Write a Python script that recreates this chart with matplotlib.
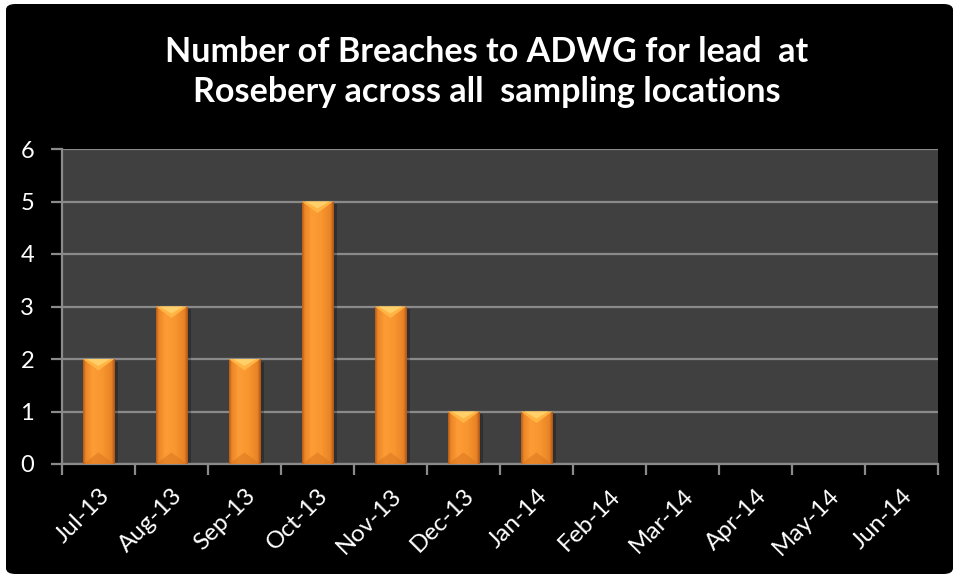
import numpy as np
import matplotlib.pyplot as plt
from matplotlib.patches import FancyBboxPatch, Polygon, Rectangle
from matplotlib.colors import LinearSegmentedColormap

months = ['Jul-13', 'Aug-13', 'Sep-13', 'Oct-13', 'Nov-13', 'Dec-13',
          'Jan-14', 'Feb-14', 'Mar-14', 'Apr-14', 'May-14', 'Jun-14']
breaches = [2, 3, 2, 5, 3, 1, 1, 0, 0, 0, 0, 0]

title = 'Number of Breaches to ADWG for lead  at\nRosebery across all  sampling locations'

plt.rcParams['font.family'] = ['Lato', 'DejaVu Sans']

fig = plt.figure(figsize=(9.55, 5.78), dpi=100, facecolor='white')

# black rounded panel behind everything
panel = FancyBboxPatch((6 / 955, 4 / 578), 947 / 955, 570 / 578,
                       boxstyle='round,pad=0,rounding_size=0.01',
                       transform=fig.transFigure, facecolor='black',
                       edgecolor='none', zorder=-5)
fig.patches.append(panel)

ax = fig.add_axes([62 / 955, 1 - 464 / 578, 876 / 955, 315 / 578])
ax.set_zorder(2)
ax.set_facecolor('#404040')

x = np.arange(len(months))
bar_w = 0.43
bars = ax.bar(x, breaches, width=bar_w, color='#F7922D', edgecolor='none', zorder=3)

# horizontal shading across each bar: thin dark rims, bright body
shade = LinearSegmentedColormap.from_list(
    'shade', [(0.0, '#B45A18'), (0.08, '#EC8626'), (0.3, '#FD9C36'),
              (0.6, '#F8962F'), (0.9, '#E98325'), (1.0, '#AC5418')])
grad = np.linspace(0, 1, 64).reshape(1, -1)
for rect, v in zip(bars, breaches):
    if v <= 0:
        continue
    x0, w = rect.get_x(), rect.get_width()
    # faint shadow on the right-hand side
    ax.add_patch(Rectangle((x0 + w, 0), 0.05, v - 0.05, facecolor='black',
                           alpha=0.25, edgecolor='none', zorder=2.5))
    im = ax.imshow(grad, cmap=shade, aspect='auto', extent=(x0, x0 + w, 0, v),
                   zorder=4, interpolation='bicubic')
    im.set_clip_path(rect)
    # light bevel at the top of the bar
    bev = 0.22
    ax.add_patch(Polygon([(x0, v), (x0 + w, v), (x0 + w * 0.5, v - bev)],
                         closed=True, facecolor='#FFB443', edgecolor='none',
                         zorder=5))
    ax.add_patch(Polygon([(x0 + w * 0.12, v), (x0 + w * 0.88, v),
                          (x0 + w * 0.5, v - bev * 0.6)],
                         closed=True, facecolor='#FFCF6A', edgecolor='none',
                         zorder=5))
    # soft darker bevel at the bottom
    ax.add_patch(Polygon([(x0, 0), (x0 + w, 0), (x0 + w * 0.5, bev)],
                         closed=True, facecolor='#D87420', edgecolor='none',
                         alpha=0.5, zorder=5))

ax.set_xlim(-0.5, len(months) - 0.5)
ax.set_ylim(0, 6)
ax.set_yticks(range(0, 7))
ax.yaxis.grid(True, color='#8A8A8A', linewidth=1.6, zorder=1)
ax.set_axisbelow(True)

# ticks sit on the category boundaries, labels under the centres
ax.set_xticks(np.arange(-0.5, len(months) + 0.5, 1))
ax.set_xticklabels([])
ax.set_xticks(x, minor=True)
ax.set_xticklabels(months, minor=True, rotation=45, ha='right', va='top',
                   rotation_mode='anchor', color='white', fontsize=17.5)
ax.tick_params(axis='x', which='minor', length=0, pad=15)
ax.tick_params(axis='x', which='major', length=8, width=1.6, color='#8A8A8A')
ax.tick_params(axis='y', length=8, width=1.6, color='#8A8A8A',
               labelcolor='white', labelsize=17, pad=12)

for side in ['top', 'right']:
    ax.spines[side].set_visible(False)
for side in ['left', 'bottom']:
    ax.spines[side].set_color('#8A8A8A')
    ax.spines[side].set_linewidth(1.6)

fig.text(0.51, 1 - 72 / 578, title, ha='center', va='center', color='white',
         fontsize=24.6, fontweight='bold', linespacing=1.3)

fig.savefig('out.png', dpi=100, facecolor='white')
